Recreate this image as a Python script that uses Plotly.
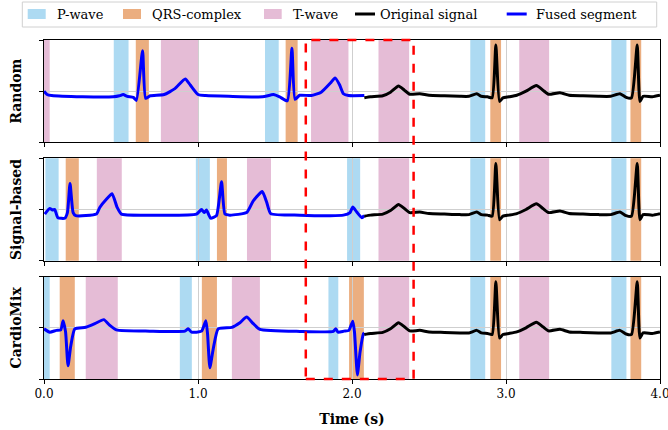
import plotly.graph_objects as go
from plotly.subplots import make_subplots

# ---------------- data ----------------
row_names = ["Random", "Signal-based", "CardioMix"]

# annotated wave intervals (s) per row
p_random = [(0.453, 0.549), (1.435, 1.524), (2.768, 2.865), (3.684, 3.782)]
qrs_random = [(0.596, 0.681), (1.569, 1.647), (2.898, 2.968), (3.808, 3.878)]
t_random = [(0.0, 0.037), (0.759, 1.001), (1.734, 1.977), (2.172, 2.371), (3.086, 3.280)]

p_signal = [(0.009, 0.095), (0.986, 1.077), (1.968, 2.053), (2.768, 2.865), (3.684, 3.782)]
qrs_signal = [(0.141, 0.226), (1.123, 1.188), (2.898, 2.968), (3.808, 3.878)]
t_signal = [(0.343, 0.505), (1.318, 1.474), (2.172, 2.371), (3.086, 3.280)]

p_cardio = [(0.0, 0.037), (0.882, 0.960), (1.847, 1.911), (2.768, 2.865), (3.684, 3.782)]
qrs_cardio = [(0.102, 0.200), (1.025, 1.123), (1.981, 2.077), (2.898, 2.968), (3.808, 3.878)]
t_cardio = [(0.271, 0.479), (1.220, 1.402), (2.172, 2.371), (3.086, 3.280)]

# original signal (shared by all rows)
orig_t = [2.08, 2.12, 2.20, 2.25, 2.302, 2.34, 2.375, 2.44, 2.50, 2.60, 2.70, 2.76, 2.81, 2.84,
          2.88, 2.91, 2.934, 2.958, 2.98, 3.02, 3.07, 3.13, 3.197, 3.24, 3.276, 3.35, 3.41,
          3.50, 3.60, 3.68, 3.74, 3.78, 3.815, 3.852, 3.87, 3.89, 3.95, 4.00]
orig_v = [-0.13, -0.11, -0.09, -0.02, 0.10, 0.02, -0.06, -0.05, -0.08, -0.09, -0.10, -0.10, -0.05, -0.10,
          -0.11, -0.13, 0.90, -0.20, -0.13, -0.11, -0.08, 0.00, 0.11, 0.02, -0.06, -0.03, -0.08,
          -0.09, -0.10, -0.10, -0.05, -0.12, -0.13, 0.90, -0.20, -0.10, -0.11, -0.08]

# fused segments
fused_random_t = [0.0, 0.02, 0.05, 0.25, 0.45, 0.49, 0.514, 0.54, 0.58, 0.60, 0.64, 0.66, 0.69,
                  0.78, 0.85, 0.917, 0.95, 1.00, 1.05, 1.20, 1.42, 1.49, 1.53, 1.58, 1.61, 1.63,
                  1.66, 1.735, 1.80, 1.86, 1.89, 1.92, 1.944, 1.977, 2.08]
fused_random_v = [0.0, -0.065, -0.085, -0.11, -0.11, -0.09, -0.065, -0.10, -0.12, -0.18, 0.79, -0.14, -0.09,
                  -0.065, 0.05, 0.24, 0.12, -0.065, -0.085, -0.10, -0.11, -0.065, -0.11, -0.19, 0.84, -0.16,
                  -0.08, -0.085, -0.02, 0.16, 0.26, 0.12, -0.05, -0.085, -0.085]

fused_signal_t = [0.005, 0.037, 0.055, 0.07, 0.09, 0.135, 0.152, 0.169, 0.189, 0.206, 0.34, 0.362,
                  0.405, 0.442, 0.475, 0.503, 0.687, 0.99, 1.023, 1.04, 1.055, 1.082, 1.12, 1.153,
                  1.175, 1.207, 1.316, 1.359, 1.417, 1.446, 1.472, 1.662, 1.859, 1.944, 1.987,
                  2.005, 2.031, 2.064, 2.08]
fused_signal_v = [-0.09, 0.02, -0.01, 0.0, -0.16, -0.17, -0.06, 0.51, -0.06, -0.12, -0.09, 0.04,
                  0.20, 0.31, 0.04, -0.09, -0.11, -0.09, 0.0, -0.06, -0.01, -0.17, -0.12, 0.54,
                  -0.09, -0.11, -0.06, 0.17, 0.35, 0.14, -0.08, -0.11, -0.12, -0.11, -0.06,
                  0.05, -0.05, -0.16, -0.12]

fused_cardio_t = [0.0, 0.037, 0.08, 0.109, 0.124, 0.14, 0.156, 0.174, 0.20, 0.271, 0.33, 0.388,
                  0.427, 0.47, 0.687, 0.915, 0.936, 0.958, 1.023, 1.051, 1.062, 1.077, 1.099,
                  1.131, 1.22, 1.272, 1.316, 1.359, 1.402, 1.662, 1.879, 1.894, 1.909, 1.948,
                  1.98, 2.005, 2.016, 2.035, 2.052, 2.074, 2.08]
fused_cardio_v = [-0.02, -0.085, -0.05, -0.04, 0.14, -0.08, -0.74, -0.35, -0.02, 0.01, 0.08, 0.16,
                  0.05, -0.04, -0.065, -0.065, -0.02, -0.085, -0.065, 0.14, -0.12, -0.78, -0.41,
                  -0.02, 0.01, 0.10, 0.21, 0.08, -0.03, -0.07, -0.07, -0.02, -0.085, -0.065,
                  -0.05, 0.13, -0.08, -0.92, -0.48, -0.12, -0.10]

x_ticks = [0.0, 1.0, 2.0, 3.0, 4.0]
x_tick_labels = ["0.0", "1.0", "2.0", "3.0", "4.0"]
zoom_window = (1.70, 2.40)

legend_labels = ["P-wave", "QRS-complex", "T-wave", "Original signal", "Fused segment"]

# ---------------- styles ----------------
C_P = "#ADDAF2"
C_QRS = "#EBAE80"
C_T = "#E5BCD6"
FONT = "DejaVu Serif"
W, H = 668, 430
ML, MR, MT, MB = 44, 8, 40, 51
PW, PH = W - ML - MR, H - MT - MB


def px(xp):
    return (xp - ML) / PW


def py(yp):
    return 1 - (yp - MT) / PH


rows = [
    (p_random, qrs_random, t_random, fused_random_t, fused_random_v),
    (p_signal, qrs_signal, t_signal, fused_signal_t, fused_signal_v),
    (p_cardio, qrs_cardio, t_cardio, fused_cardio_t, fused_cardio_v),
]

fig = make_subplots(rows=3, cols=1, shared_xaxes=True, vertical_spacing=0.047)

for i, (pw, qrs, tw, ft, fv) in enumerate(rows, start=1):
    suffix = "" if i == 1 else str(i)
    for intervals, col in [(pw, C_P), (qrs, C_QRS), (tw, C_T)]:
        for a, b in intervals:
            fig.add_shape(type="rect", xref="x" + suffix, yref="y" + suffix + " domain",
                          x0=a, x1=b, y0=0, y1=1, fillcolor=col, opacity=1,
                          line_width=0, layer="below")
    fig.add_trace(go.Scatter(x=ft, y=fv, mode="lines", showlegend=False, name="Fused segment",
                             line=dict(color="blue", width=3, shape="spline", smoothing=0.5)),
                  row=i, col=1)
    fig.add_trace(go.Scatter(x=orig_t, y=orig_v, mode="lines", showlegend=False, name="Original signal",
                             line=dict(color="black", width=3, shape="spline", smoothing=0.5)),
                  row=i, col=1)
    fig.update_yaxes(row=i, col=1, range=[-1, 1], tickvals=[-1, 0, 1], showticklabels=False,
                     ticks="outside", ticklen=4, tickcolor="black", automargin=False,
                     showgrid=True, gridcolor="#cfcfcf", gridwidth=1, zeroline=False,
                     showline=True, linecolor="black", linewidth=1, mirror=True,
                     title=dict(text=f"<b>{row_names[i-1]}</b>", standoff=14,
                                font=dict(family=FONT, size=14, color="black")))
    fig.update_xaxes(row=i, col=1, range=[0, 4], tickvals=x_ticks, ticktext=x_tick_labels,
                     ticks="outside", ticklen=4, tickcolor="black", automargin=False,
                     showgrid=True, gridcolor="#cfcfcf", gridwidth=1, zeroline=False,
                     showline=True, linecolor="black", linewidth=1, mirror=True,
                     ticklabeloverflow="allow",
                     tickfont=dict(family=FONT, size=12, color="black"))

fig.update_xaxes(row=3, col=1, title=dict(text="<b>Time (s)</b>", standoff=13,
                                          font=dict(family=FONT, size=14, color="black")))

# zoomed window (red dashed rectangle across all rows)
fig.add_shape(type="rect", xref="x", yref="paper", x0=zoom_window[0], x1=zoom_window[1],
              y0=0.0, y1=1.0, line=dict(color="red", width=2.5, dash="dash"),
              fillcolor="rgba(0,0,0,0)", layer="above")

# ---------------- legend (drawn in paper space) ----------------
fig.add_shape(type="rect", xref="paper", yref="paper", x0=px(22.3), x1=px(656.7),
              y0=py(27), y1=py(2), line=dict(color="#d0d0d0", width=1), fillcolor="white",
              layer="above")
key_kinds = ["patch", "patch", "patch", "line", "line"]
key_colors = [C_P, C_QRS, C_T, "black", "blue"]
key_x0 = [27.7, 123.0, 264.0, 355.0, 506.7]
key_x1 = [45.7, 141.0, 281.7, 375.0, 526.7]
text_x = [58.0, 153.0, 294.0, 381.0, 537.0]
for kind, col, a, b, tx, lab in zip(key_kinds, key_colors, key_x0, key_x1, text_x, legend_labels):
    if kind == "patch":
        fig.add_shape(type="rect", xref="paper", yref="paper", x0=px(a), x1=px(b),
                      y0=py(19), y1=py(9), fillcolor=col, line_width=0, layer="above")
    else:
        fig.add_shape(type="line", xref="paper", yref="paper", x0=px(a), x1=px(b),
                      y0=py(14), y1=py(14), line=dict(color=col, width=3), layer="above")
    fig.add_annotation(text=lab, xref="paper", yref="paper", x=px(tx - 1), y=py(14.5),
                       xanchor="left", yanchor="middle", showarrow=False, borderpad=0,
                       borderwidth=0, font=dict(family=FONT, size=13, color="black"))

fig.update_layout(
    width=W, height=H,
    margin=dict(l=ML, r=MR, t=MT, b=MB, autoexpand=False),
    plot_bgcolor="white", paper_bgcolor="white",
    font=dict(family=FONT, size=12, color="black"),
    showlegend=False,
)

fig.write_html("out.html", post_script="document.body.style.margin='0';",
               config={"displayModeBar": False})
